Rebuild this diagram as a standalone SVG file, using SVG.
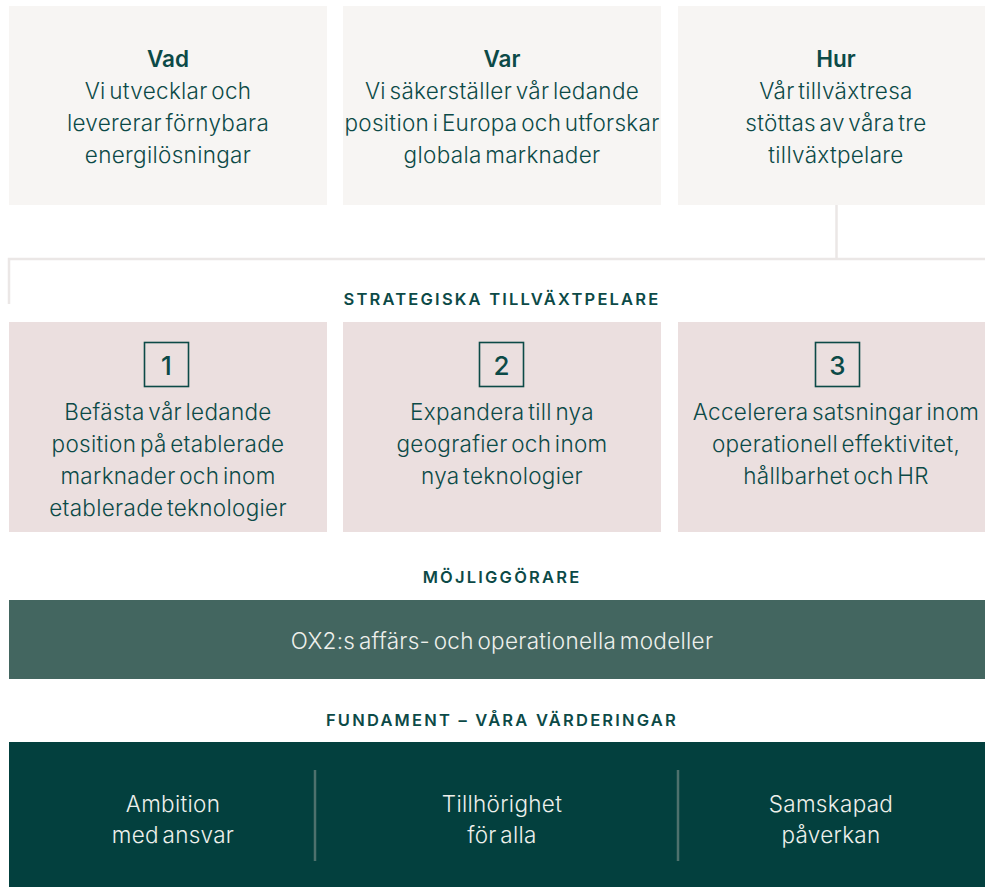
<svg xmlns="http://www.w3.org/2000/svg" width="985" height="887" viewBox="0 0 985 887">
<style>
.bg{fill:#ffffff}
.top{fill:#f7f5f3}
.pink{fill:#ebdfdf}
.t{font-family:Inter,"Noto Sans","Liberation Sans",sans-serif;font-size:22.5px;font-weight:300;letter-spacing:0.3px;word-spacing:-3px;fill:#0c4a47;text-anchor:middle}
.b{font-weight:600;letter-spacing:0}
.h{font-family:Inter,"Noto Sans","Liberation Sans",sans-serif;font-size:16.5px;font-weight:600;letter-spacing:2.2px;fill:#0c4a47;text-anchor:middle}
.w{font-family:Inter,"Noto Sans","Liberation Sans",sans-serif;font-size:22.5px;font-weight:300;letter-spacing:0.3px;word-spacing:-3px;fill:#eef0ec;text-anchor:middle}
.num{fill:none;stroke:#0c4a47;stroke-width:1.6}
.n{font-family:Inter,"Noto Sans","Liberation Sans",sans-serif;font-size:26px;font-weight:500;fill:#0c4a47;text-anchor:middle}
.conn{fill:none;stroke:#ebe7e6;stroke-width:2.5}
.div{stroke:#4e716d;stroke-width:2.5}
</style>
<rect class="bg" x="0" y="0" width="985" height="887"/>
<g id="connectors">
<path class="conn" d="M836.5 205 V259"/>
<path class="conn" d="M9 304 V259 H985"/>
</g>
<g id="vad">
<rect class="top" x="9" y="6" width="318" height="199"/>
<text class="t b" x="168" y="67">Vad</text>
<text class="t" x="168" y="99">Vi utvecklar och</text>
<text class="t" x="168" y="131">levererar förnybara</text>
<text class="t" x="168" y="163">energilösningar</text>
</g>
<g id="var">
<rect class="top" x="343" y="6" width="318" height="199"/>
<text class="t b" x="502" y="67">Var</text>
<text class="t" x="502" y="99">Vi säkerställer vår ledande</text>
<text class="t" x="502" y="131">position i Europa och utforskar</text>
<text class="t" x="502" y="163">globala marknader</text>
</g>
<g id="hur">
<rect class="top" x="678" y="6" width="318" height="199"/>
<text class="t b" x="836" y="67">Hur</text>
<text class="t" x="836" y="99">Vår tillväxtresa</text>
<text class="t" x="836" y="131">stöttas av våra tre</text>
<text class="t" x="836" y="163">tillväxtpelare</text>
</g>
<text class="h" x="502" y="305">STRATEGISKA TILLVÄXTPELARE</text>
<g id="pelare1">
<rect class="pink" x="9" y="322" width="318" height="210"/>
<rect class="num" x="144.5" y="342.5" width="44" height="44"/>
<text class="n" x="166.5" y="374.5">1</text>
<text class="t" x="168" y="420">Befästa vår ledande</text>
<text class="t" x="168" y="452">position på etablerade</text>
<text class="t" x="168" y="484">marknader och inom</text>
<text class="t" x="168" y="516">etablerade teknologier</text>
</g>
<g id="pelare2">
<rect class="pink" x="343" y="322" width="318" height="210"/>
<rect class="num" x="479.5" y="342.5" width="44" height="44"/>
<text class="n" x="501.5" y="374.5">2</text>
<text class="t" x="502" y="420">Expandera till nya</text>
<text class="t" x="502" y="452">geografier och inom</text>
<text class="t" x="502" y="484">nya teknologier</text>
</g>
<g id="pelare3">
<rect class="pink" x="678" y="322" width="318" height="210"/>
<rect class="num" x="815.5" y="342.5" width="44" height="44"/>
<text class="n" x="837.5" y="374.5">3</text>
<text class="t" x="836" y="420">Accelerera satsningar inom</text>
<text class="t" x="836" y="452">operationell effektivitet,</text>
<text class="t" x="836" y="484">hållbarhet och HR</text>
</g>
<text class="h" x="502" y="583">MÖJLIGGÖRARE</text>
<g id="mojliggorare">
<rect x="9" y="600" width="976" height="79" fill="#436660"/>
<text class="w" x="502" y="649">OX2:s affärs- och operationella modeller</text>
</g>
<text class="h" x="502" y="725.5">FUNDAMENT – VÅRA VÄRDERINGAR</text>
<g id="fundament">
<rect x="9" y="742" width="976" height="145" fill="#03403e"/>
<line class="div" x1="315" y1="770" x2="315" y2="861"/>
<line class="div" x1="678" y1="770" x2="678" y2="861"/>
<text class="w" x="173" y="811.5">Ambition</text>
<text class="w" x="173" y="843">med ansvar</text>
<text class="w" x="502" y="811.5">Tillhörighet</text>
<text class="w" x="502" y="843">för alla</text>
<text class="w" x="831" y="811.5">Samskapad</text>
<text class="w" x="831" y="843">påverkan</text>
</g>
</svg>
